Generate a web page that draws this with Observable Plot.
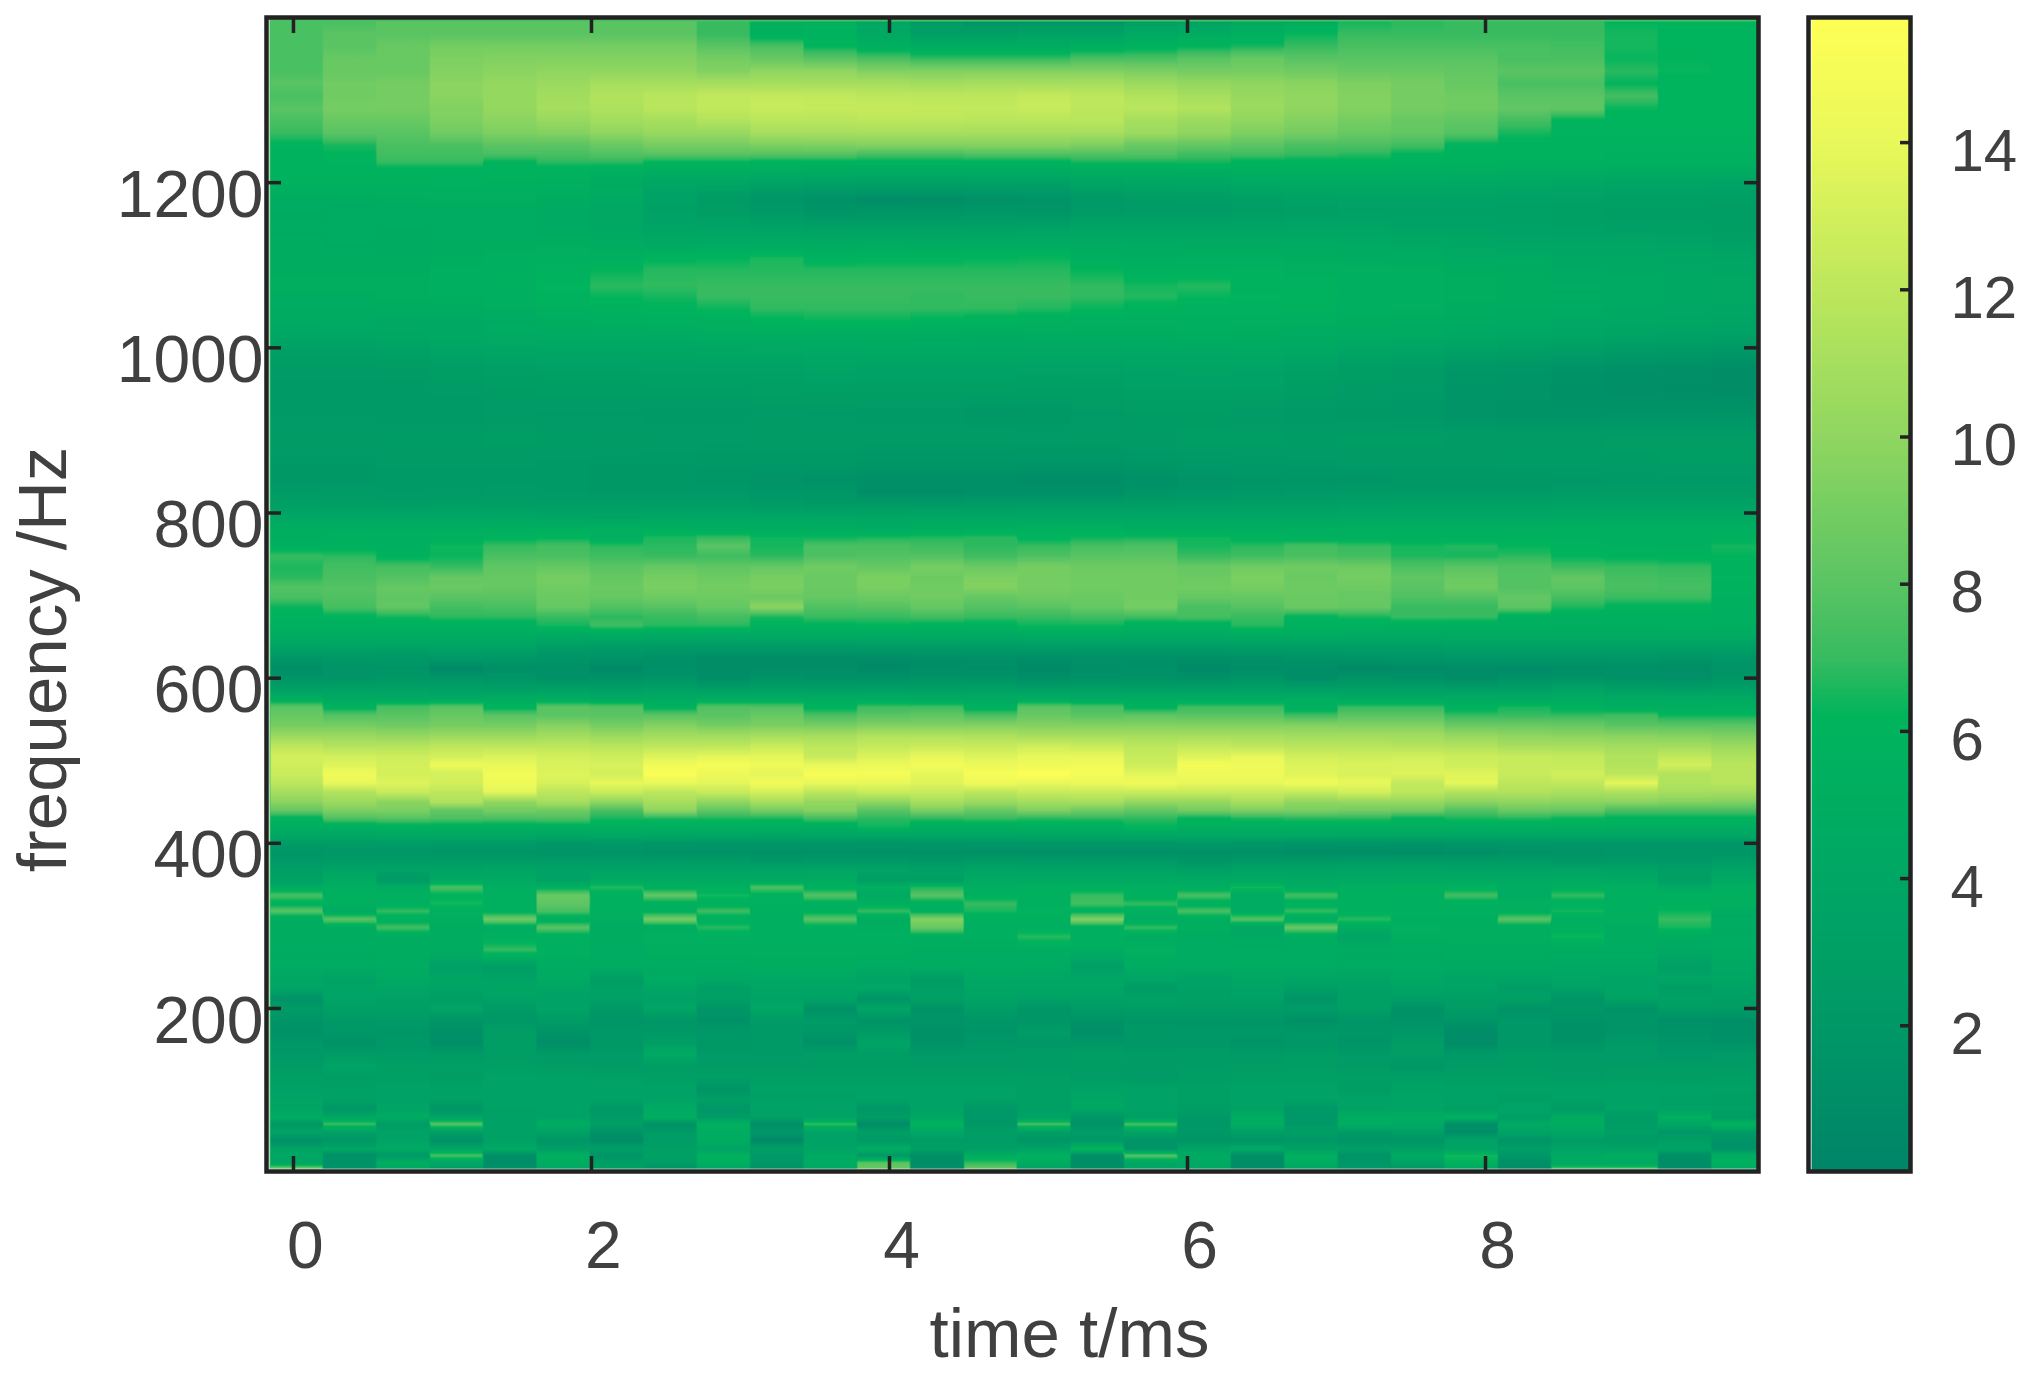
<!DOCTYPE html>
<html><head><meta charset="utf-8">
<style>
html,body{margin:0;padding:0;background:#fff}
#wrap{position:relative;width:2036px;height:1387px;overflow:hidden}
#wrap svg,#wrap figure{position:absolute;top:0;margin:0}
</style>
<script src="https://cdn.jsdelivr.net/npm/d3@7"></script>
<script src="https://cdn.jsdelivr.net/npm/@observablehq/plot@0.6"></script>
</head><body><div id="wrap"></div>
<script>
// colour scale stops
const colorStops=[0,2,4,6.2,7,8,10,12,14,15.7];
const colorRange=["#008468","#009866","#00a764","#00b45c","#38bb60","#5ac463","#90d660","#bde75c","#e8f85a","#ffff55"];
const xTicks=[0,2,4,6,8];
const yTicks=[200,400,600,800,1000,1200];
const barTicks=[2,4,6,8,10,12,14];
const columnStart=-0.161, columnWidth=0.3584, columnCount=28;
// each row: frequency (Hz), then one value per time column
const rowsUpper=[
[1395,7.5,7.5,8,8,8,8,8,8,7,5.5,5.6,4,2.5,1.8,2,2,3,3.5,4.5,5,6.5,6.8,7,7,7,6.2,6,6],
[1380,7.5,8,8,8,8,8,8,8,7,5.5,5.8,4.5,3,3,3.5,3.5,4.5,5,5.5,6.3,7,7,7,7,7,6.5,6,6],
[1365,7.5,8,8.5,9,9,9,9,9,8,7.5,6.2,5.5,5,5,5,5.5,5.8,6.2,6.5,7,7.5,7.5,7.5,7.5,7.3,6.5,6,6],
[1350,7.5,8.5,8.5,9.3,9.5,9.5,9.5,9.5,9,8.5,8,7.5,7,7,7,7.5,7.5,8,8.5,8,8,8,8,7.5,7.5,6.3,6.2,6],
[1335,7.5,8.5,8.5,9.5,9.8,10,10,10,9.5,10,10,9.5,9.5,9.5,9.5,9.5,9.3,9,9,8.8,8.5,8.5,8.3,8,8,6.8,6.3,6],
[1320,8,8.8,9,9.8,10.2,10.5,11,11,11,11,11,11,10.8,11,11,11,10.5,10.2,10,9.8,9.3,9,8.5,7.5,7.5,6.2,6,6],
[1305,7.5,8.8,9,9.8,10.2,10.8,11.5,11.8,12.2,12.3,12.2,12,12,12,12.3,12,11.5,11,10.3,10,9.5,9,8.8,8,8,7.3,6,6],
[1290,8,9,9,9.5,10.2,11,11.3,11.8,12.2,12.5,12.4,12.4,12.3,12.3,12.5,12,11.8,11.5,10.5,10,9.5,9,8.8,8.3,8.2,6.3,6,6],
[1275,7.5,8.5,8.5,9.3,9.8,10.3,10.8,11,11.5,11.8,11.8,12,12,11.8,11.8,11.8,11,10.5,10,9.5,9,8.5,8.2,7.3,6,6,6,6],
[1260,7,8,8,8.8,9.3,9.5,10,10.3,10.3,11,11,11,11,11,11,11,10.5,10,9.3,9,8.5,8.3,7.8,6.5,6,6,6,6],
[1245,6,6.5,7.5,7.5,8,8,8.5,9,9,9.2,9.3,9.5,9.5,9.5,9.5,9.2,8.5,8.3,8,7.5,7.5,7.2,6,5.8,5.8,5.8,5.7,5.7],
[1235,5.8,6.2,7.3,7.3,7.5,7.5,7.8,8,8,8,8,7.5,7.5,7.8,7.8,7.8,7.8,7.3,7.3,7,6.8,6.2,5.8,5.7,5.7,5.6,5.6,5.6],
[1225,5.8,6,7,7,6.2,6.8,6.8,6.2,6.2,6,6,6,6,6,6,6.5,6.5,6.5,6,6,6,5.7,5.7,5.6,5.6,5.5,5.5,5.5],
[1215,5.8,5.8,5.8,5.8,5.8,5.8,5.6,5.3,5.3,5.2,5,5,5,5,5,5.2,5.2,5.3,5.4,5.4,5.4,5.4,5.3,5.2,5.2,5,5,5],
[1200,5.7,5.7,5.7,5.7,5.6,5.5,4.8,4,3.9,3.5,3.3,3.3,3.3,3.3,3.3,3.7,4,4,4.5,4.5,4.5,4.5,4.3,4.2,4,3.8,3.8,3.5],
[1180,5,5,5.2,5.3,5.3,5,4.5,3.3,2.5,1.8,1.3,0.9,1,1.3,1.5,2.2,2.5,2.7,3,3.3,3.5,3.5,3.5,3.3,3.2,3,3,3],
[1165,4.8,4.6,4.8,4.8,4.8,4.5,4.2,3.2,2.7,2.2,1.7,1.8,1.8,2,1.8,2.2,2.5,2.5,2.8,3,3.2,3.2,3.2,3.2,3,2.8,2.8,2.6],
[1145,4.6,4.6,4.8,4.8,4.8,4.5,4.2,3.7,3.6,3.5,3.2,3.2,3.2,3.2,3.4,3.8,3.7,3.7,3.7,3.8,3.8,3.5,3.5,3.3,3.2,3,3,2.8]
];
const rowsNear1070=[
[1125,5,4.7,4.5,4.8,5,5.2,5,4.5,4.6,4.8,4.8,5,4.8,4.8,4.8,4.8,4.6,4.7,4.7,4.7,4.5,4.2,4,3.8,3.8,3.8,3.6,3.3],
[1108,5,5,5,5.2,5.4,5.5,5.3,6.1,6.2,6.6,5.8,6,6,6.2,6.3,5.3,5.2,5.3,5.3,5.1,5,5,4.6,4.5,4.2,4.2,4,3.8],
[1095,5,5,5,5.3,5.5,5.8,6.2,6.7,6.7,6.7,6.7,6.7,6.7,6.7,6.7,6.2,5.6,5.6,5.7,5.4,5.4,5.3,5,4.8,4.5,4.4,4.2,4],
[1075,5.2,5.2,5.2,5.5,5.6,6,6.8,6.9,7,7,7,7,7,7,7,6.9,6.5,6.7,5.8,5.8,5.4,5.3,5.2,5,4.6,4.5,4.3,4.2],
[1062,5,5,5.2,5.3,5.6,5.9,6.3,6.5,7,7,7,7,6.9,7,7,6.9,6.7,6.3,6,5.8,5.5,5.4,5.2,5,4.8,4.6,4.4,4.2],
[1048,4.8,4.8,4.9,5,5.2,5.6,5.8,6,6.4,6.9,6.9,6.9,6.9,6.9,6.7,6.3,5.9,5.8,5.8,5.7,5.4,5.3,5,4.8,4.6,4.4,4.2,4],
[1035,4.6,4.5,4.4,4.4,4.8,5.2,5.4,5.6,5.7,6.2,6.4,6.4,6.2,6,5.8,5.5,5.5,5.5,5.5,5.4,5.2,5,4.7,4.5,4.4,4.2,4,3.8],
[1015,4,4,4,4.4,4.5,4.6,4.8,4.8,5,5,5,5,4.9,4.9,5,5,5,5.2,5,4.8,4.6,4.5,4.3,4,3.8,3.6,3.4,3.2],
[1000,3.2,3.2,3.4,3.8,4,4,4,4,4.2,4.3,4.4,4.5,4.5,4.4,4.4,4.4,4.4,4.5,4.5,4.4,4,3.8,3.5,3.2,3,2.6,2.5,2.3]
];
const rowsDark900=[
[975,2.5,2.5,2.6,2.8,3,3.2,3.2,3.3,3.3,3.3,3.7,3.5,3.5,3.5,3.4,3.4,3.6,3.7,3.6,3.2,2.8,2.6,2,1.8,1.5,1.3,1.2,1],
[950,2.2,2.2,2.2,2.4,2.6,2.7,2.7,2.8,2.8,3,3,3,3,3,2.8,2.9,3.2,3.2,3.2,2.7,2.5,2.4,1.7,1.6,1.3,1.1,1,0.9],
[920,2.3,2.3,2.2,2.2,2.4,2.3,2.3,2.2,2.2,2.4,2.3,2.2,2.2,2,2,2.3,2.5,2.5,2.4,2.2,2.1,2,1.6,1.5,1.5,1.6,1.6,1.6],
[890,2.6,2.6,2.6,2.6,2.7,2.6,2.6,2.5,2.5,2.6,2.6,2.6,2.6,2.6,2.5,2.6,2.6,2.7,2.7,2.6,2.7,2.7,2.6,2.6,2.6,2.7,2.7,2.7],
[860,2.2,2.2,2.4,2.4,2.4,2.3,2.2,2.2,2,2,2,1.8,1.8,1.8,1.7,1.7,1.9,2.1,2.2,2.3,2.4,2.4,2.4,2.5,2.5,2.5,2.6,2.6],
[840,2,2,2.2,2.2,2.2,2.2,2,2,1.8,1.6,1.4,1.2,1.2,1.2,1,1,1.3,1.6,1.7,1.8,1.8,2,2,2,2.1,2.2,2.3,2.3],
[825,2.5,2.5,2.3,2.3,2.5,2.3,2.2,2.2,2.2,1.9,1.8,1,1,1.2,1.2,1.2,1.6,1.8,2,2.2,2.3,2.3,2.3,2.3,2.5,2.6,2.6,2.6],
[810,3,2.8,2.8,3,2.8,2.8,2.8,2.8,2.8,2.6,2.3,2.5,2.4,2.5,2.7,2.7,2.8,3,3,3,3.2,3.3,3.3,3.3,3.3,3.4,3.4,3.4],
[795,4,4,4,4,4,3.8,3.8,4,4,4,4,4,4.2,4.2,4.2,4.2,4,4,4,4,4.2,4.2,4.2,4.2,4.4,4.4,4.4,4.4],
[780,5.3,5.3,5.3,5.3,5.4,5.5,5.6,5.5,5.2,5.2,5.2,5,5.2,5.4,5.6,5.6,5.2,5.3,5.3,5.4,5.5,5.5,5.5,5.5,5.5,5.4,5.4,5.4]
];
const rowsBand720=[
[770,5.2,5.5,5.3,5.5,6,6.2,5.4,6.6,7,6.4,6.4,6.6,6.7,6.8,6,6.4,6.5,6.4,5.8,5.6,5.6,5.6,5.6,5.6,5.6,5.5,5.5,5.5],
[760,5.6,5.7,5.4,6.4,7,7.3,6.8,6.8,8,6.5,7.5,7.5,7.2,6.8,7,7.4,7.6,6.5,6.8,7.3,7,6.5,6.7,6.2,5.7,5.6,5.5,6.5],
[748,7,6.8,5.8,6.3,7.5,7.5,7.2,7,7.2,6.8,7.6,7.8,7.8,7.2,7.6,8,8,7,7.2,7.5,7.3,6.6,6.5,6.8,6.2,6,5.8,6.2],
[735,6.6,7.3,7.4,7,8.2,8.4,8,8.4,8.2,8.4,8.8,8.4,9,8.6,9,8.7,8.7,8.4,8.8,8.8,8.7,7.6,8,7.7,7.1,7,6.9,5.7],
[722,6.8,7.5,7.8,8.4,8.4,9,8.4,9,8.7,9.1,8.6,9.2,8.7,9.3,9,8.8,8.8,8.6,9.3,8.6,9,8.2,8.6,7.8,8.3,7.4,7.2,6],
[710,7.8,7.8,8.4,8.6,8.4,8.8,8.6,9.2,8.9,9.2,8.6,9.2,8.8,9.5,9,8.8,8.8,8.8,9,8.7,8.7,8,8.8,7.8,8.1,7.5,7.4,5.7],
[698,7.5,7.7,8.2,8,8,8.6,8.4,8.7,8.7,8.6,8.4,8.6,8.8,8.4,8.7,8.6,8.8,8.4,8.4,8.6,8.4,7.7,7.8,8.3,7.4,7.1,7.1,5.6],
[686,6.3,7.4,8.3,7.3,7.5,8.4,7.7,7.9,8.4,9.8,7.7,7.9,8.4,7.8,8,8.4,9,7.5,7.9,8.6,8.4,7,7,8.1,6.6,6,6,5.6],
[674,5.8,6,6.4,6.8,6.8,7,6.8,7,7.3,6.5,7,7,7.2,7,7,7.2,7.2,7.4,7,6,6.5,7,7,5.5,5.5,5.5,5.5,5.5],
[664,5.5,5.5,5.5,5.6,5.6,6.5,7.2,6.8,6.8,6,6,6.2,6,5.8,6.4,6.4,5.6,5.6,6.8,5.8,5.6,5.5,5.4,5.3,5.2,5.2,5.3,5.2],
[652,5,5,5,5,5,4.8,4.8,4.6,4.5,4.6,4.8,4.7,4.7,4.7,4.8,4.8,4.8,4.8,5,5,4.8,4.8,4.8,4.8,4.8,4.8,4.8,4.8],
[640,3.8,3.8,3.8,3.8,3.8,2.9,2.7,2.7,2.7,2.7,2.7,2.8,2.8,2.8,3,3,3,3,3.2,3.2,3.2,3.2,3.5,3.5,3.5,3.5,3.5,3.5],
[625,2,2.2,2.1,2.4,2.2,1.7,1.7,1.3,0.9,0.9,0.9,1,1.1,1.3,1.1,1.2,1.3,1.3,1.3,1.6,1.8,1.8,2,2,2,2,1.8,1.9],
[612,1,1.6,1.7,0.4,1.2,1.3,0.5,1.2,1,1,1,0.6,1,1,0.6,1.1,1.2,0.6,1,1,0.6,0.8,0.9,0.7,1,1.2,1,1.6],
[600,1.7,1.7,2,2,1.8,1.3,1.5,1.7,1,1.6,1.4,1.4,1.6,1.6,1.2,1.4,1.5,1.3,1.7,1,1.6,1.3,0.9,1.4,1.6,1.4,1.2,1.8],
[588,3,3.2,3.3,3,2.8,3,2.8,3.2,2.7,3,2.8,3,2.8,3.1,2.9,3,3,3,3.2,2.9,3,3,2.7,2.8,3.4,2.8,2.7,3],
[575,5.2,4.5,4.5,4.5,5,5,4.6,4.7,5,5,5,4.8,4.6,4.6,5,4.8,5,4.8,4.8,5.3,4.6,4.6,4.8,4.6,5,4.7,4.6,4.6]
];
const rowsBand490=[
[565,8,5.8,7.5,8,5.8,8,7.8,5.8,7.8,7.8,5.8,7.2,7.2,5.6,8,7.5,5.8,7.2,7.2,5.4,7,7,5.6,6.5,5.6,5.3,5.2,5.3],
[555,8.5,7.8,8,8.5,8,8,8,8,8,8.5,7.5,8,8.2,7.5,8.5,8,8.2,8,8,7.2,8,8,7,7,7,7.2,6.3,6.3],
[543,9,9,8.8,9,9,9.6,9,9.5,9,9.2,9,9.4,9.4,9.5,9.5,9.5,9.5,9.5,9.5,9.5,9.4,9.4,8.6,8.6,8.5,8,8,8],
[530,10.5,10.5,10.2,10.5,10.5,10.8,10.5,10.8,10.8,11,11,11.5,11.5,11.3,11,11,11,11,11,10.8,10.8,10.8,10.3,10,9.8,9.8,9.6,9.3],
[518,12,11.5,11.6,12,12,12,11.8,12,12,12.5,12,12.3,12.5,12.5,12.8,12.5,12,12.3,12,11.8,11.8,11.6,11.5,11,11,10.8,10.8,10.5],
[505,13,13,12.8,13,13.4,13,12.8,13.5,13.8,13.8,12.5,13.4,14,13.5,14,14,12.5,13.5,14,13,12.8,13,12.7,12.5,12.3,11.5,12.2,11.4],
[495,12.8,13.5,13,14.3,14,13.3,13.2,14.6,15,14.5,14,14.3,14.8,14.3,14.5,14.8,12.8,14.8,14.5,13.5,13.3,13.3,12.8,12.5,12.4,11.5,13,11.8],
[484,12.6,14.5,13,13,14.8,13.5,13,15.4,14.3,13.8,15.2,15,13.8,15,15.6,15,13.8,14.5,14.5,13.6,13.3,13.5,13.6,12.5,13,12,11.5,11.8],
[473,12,14,13.5,13,14.5,13.2,14,14,13.8,14.7,14,14,13.6,14.5,14,14.2,14.5,14,14,14.5,14,12.3,13.8,12,12.2,13.8,11.5,11.8],
[462,11,11.5,12.5,12,13.7,12,12.5,12,12.5,13,12,12.5,12.5,12,12.5,12.5,12.5,12.5,12.5,12.3,13,12,11.5,11.5,11.2,11.3,11,11],
[450,9.8,10.5,9.8,11.4,10,11,10,11,10,11,10.2,10,11,10.5,10.8,11,10.2,10.2,11,10,10.2,10.3,9.8,10,9.8,9.8,9.6,9.4],
[440,8.4,9.3,9.3,8.3,9,8.8,7.5,10,8.3,9,9.6,8,9.2,8.5,9.4,8.8,8.3,9,9.3,9.2,9,8.8,7.8,8.6,8.5,7.5,7.5,7.5],
[430,5.8,7.6,7.8,7.6,7.5,7.6,6.5,6.5,6.5,6.5,7.2,6.8,6.8,7,6.7,6.8,6.8,6,6.5,6.7,6.7,6,6.5,6.6,6.2,6,6,6],
[420,5.2,5.3,5.6,5.6,5.4,5.6,5.6,5.4,5.4,5.4,5.4,6.4,5.4,5.4,5.6,5.5,6.2,5.6,5.6,5.6,5.5,5.5,5.4,5.4,5.4,5.2,5.2,5.2],
[410,4.2,4.2,4.4,4.4,4.4,4.2,4.2,4.2,4,3.9,4,4,4,4,4.2,4.2,4.2,4.3,4.3,4.3,4.2,4.2,4.2,4,4,4,4,4],
[400,2.5,2.5,2.5,2.5,2.5,2,2.2,2,1.8,1.8,1.8,1.7,1.8,2,2,2,2,2.2,2,1.7,1.7,1.6,1.8,1.9,2,2,2,2],
[388,1.8,2,2,1.8,1.8,1.6,1.6,1.4,1.4,1.4,1.4,1.4,1.4,1.3,1.3,1.2,1.2,1.3,1.2,1,1,1,1.2,1.4,1.6,1.8,1.8,1.8],
[379,2.2,2.5,2.5,2.5,2.5,2.5,2.5,2.5,2.5,1.8,2.2,2.2,1.8,2.5,2.4,2.4,2.3,1.7,2.2,2.3,2.4,2.4,2.5,2.5,2,2.2,2,2.7]
];
const rowsStreaks=[
[368,3,3.5,3.5,3.4,3.8,3.5,3.5,3.5,3.5,3.7,3.7,3.5,3.3,3.6,3.6,3.5,3.5,3.2,3.6,3.5,3.7,3.7,3.5,3.5,3.5,3.5,3,3.5],
[355,3.2,4.8,2.2,4.5,4.5,3.5,4.6,4.6,4.6,4.5,4.8,2.8,3,4.5,4.6,4.5,4.6,4.5,4.5,4.4,4.5,4.6,4.6,4.5,4.6,4.4,3,4.5],
[347,4.8,5.2,5,7.5,5.2,5.6,6.8,5.5,5.5,7.6,5.5,5.5,6.5,5.2,5.6,5.5,5.5,5.2,6.5,5,5.4,5.6,5.6,5,5.4,5.3,4.5,5.4],
[337,7.5,5.6,5.5,6,5.5,8.5,5.5,8.3,6.5,5.8,7.8,4.5,8,5.6,5.6,7,5.3,7.5,4.8,7.3,5.5,5.4,7.3,4.8,7,5.4,5.6,5.5],
[327,5.6,5.6,5.4,6.5,5.5,8.2,5.5,5.5,5.5,5.6,5.6,5.4,5.4,7,5.5,7.3,7,5.4,4.8,5.5,5.6,5.5,5.5,5.5,5.5,5.5,5.5,5.5],
[318,8,4.6,7,5.5,5.5,7.5,5.5,5.6,7.2,5.6,5.6,7,5.6,6.5,6,5.6,5.4,7.5,5,7,5.6,5.6,5.6,5.4,6.5,5.5,6.3,5],
[308,4.8,8,5.4,5.2,8.8,5.2,5.4,9,5.4,5.5,8,5,9.5,5.5,5.5,9.5,5,5.2,7.8,5,6.8,5.2,5.2,8,5.4,5.5,7,4.6],
[298,5,5,7.3,5,5,8,4.8,5,6.8,5.4,5.4,5.2,8.5,5.4,5.4,5.4,7,5.2,4,8.5,5,5.4,5.2,5.2,5.6,5,6.5,4.6],
[287,5,5,5,5,5.4,5.4,5,5.4,5.4,5.4,5.4,5.4,5.4,5.4,6.8,5.4,5,5,4.5,5,3.6,5.2,5.2,5.2,6.4,5,5,4.8],
[271,4.8,4.8,5,5,7,5.6,4.8,5.2,5.2,5.2,5.2,5.2,5,5,5,5.2,5.4,4.8,4.8,4.8,4.8,4.8,5,5,4.8,4.8,4.4,4.8],
[250,4.6,4.6,4.8,3.2,2.8,4.8,4.8,4.8,4.8,5,5,4.8,4.8,4.8,4.8,3,4.8,4.8,4.8,4.8,4.6,4.6,4.6,4.6,4.4,4.4,3,4.2],
[235,4,3.4,4.4,3.8,3.5,4.5,2.6,4.6,4.2,4.2,4.2,3.5,2.5,4.2,4,4,3.8,3.3,4,3.8,3.6,4.2,3.6,3.6,3.8,3.6,3.8,3.8],
[225,3.8,3.7,3.8,3.6,3.8,3.8,3.2,4,2.9,3.8,3.8,4.2,2.8,3.8,3.8,3.8,2.5,3.3,3.6,3,3.2,3.8,3.6,2.8,3.4,3.6,2.8,3.5],
[212,1.5,3.6,3.2,2.7,3.5,3.3,3.2,3.3,3.2,3.5,3.4,1.6,3.2,3.5,3.4,3.4,3.3,3,3.3,1.7,3,3,3,3.2,1.7,3.5,3.2,3]
];
const rowsLow=[
[200,2.4,3,3,3.6,2.4,3.6,2.2,3.8,1.8,4,1.3,3.8,1.5,2.8,1.8,2.6,2.8,2.7,2.6,2.6,3,1.4,2.6,1.5,1.9,1.5,2.8,2.6],
[185,1.6,2.2,2.4,1.7,2,2.5,1.7,1.8,1.4,2.4,2.3,1.5,1.7,1.8,1.8,1.4,1.8,1.8,1.8,1.3,1.7,1.5,1.7,2,1.5,1.7,1.2,1.2],
[172,1.4,2,1.9,1.2,2.8,1.6,2,2.2,2,2.2,2,2.3,1.3,1.7,2.6,1.2,2.2,2,2,2,1.9,2,0.9,2,1.3,1.6,1.5,1.2],
[158,2,1.4,2,1.2,2.6,1.1,2,2.8,2,2.2,1.3,3.6,1.4,2,2,2,2,2,1.6,2,1.6,2.6,0.9,2,1.5,2.3,1.7,1.4],
[145,2.2,2.5,2.4,2.3,2.6,2.3,2.4,4.5,2.3,2.3,2.8,2.8,2.3,2.3,2.6,2.8,2.5,2.6,2.3,2.6,2.3,2.8,2.2,2.5,2.4,2.4,2,2.4],
[130,2.5,3.5,3,3,3,2.7,2.5,2.7,2.5,2.5,2.5,2.5,2.6,2.5,2.5,2.5,2.5,2.5,2.7,2.8,2.5,1.9,2.5,2.6,2.5,2.5,2.6,2.6],
[116,3,2.8,3,2.7,3.4,3.3,3.2,3,3,3,3,3,3,3,3,2.5,2.3,2.8,3,3,3,3,3,3,2.5,2.8,2.7,3],
[102,3.2,3.2,3.5,3.3,3.5,3.5,3.5,3.4,1.6,3.3,3.3,3.3,3.3,3.3,3,3.5,3.5,3,3.5,3.5,2.6,3.5,3.3,3.3,3.5,3.5,3.5,3.3],
[90,3.6,3.2,3.5,3.2,3.5,3.5,3.5,3.4,3,3.2,3.2,3.5,3.4,3.3,3,3.8,3.5,3,3.5,3.5,3.5,3.6,3.5,3,3.5,3.5,3.2,3],
[78,3.8,2,3.6,1.8,3.2,3.5,2,4.5,2,3.5,3.5,1.8,3.4,2,3,3.8,3.5,2.7,3.5,2,3.5,3.6,3,3.7,2.2,3.4,3.3,3.2],
[68,5,4.2,4.8,3.8,3.2,3.5,2.5,5,2.5,3,3.5,2.8,4,2,3.5,1.8,3,2.2,5,2,5,5,5.5,3,5,2.5,5.5,2.5],
[60,2,7.2,2.5,8,3.2,5,3,1.3,5.5,1,7,0.8,6,2,7.5,1.5,7.5,2,5,2,5,4.5,1.2,4.5,5,2.5,4,6],
[50,3.5,3.2,3.5,2.8,3.2,3.2,1.5,2.5,5,2,3.4,3,4,2.8,3,2.7,3.5,2,3,3,2.5,3,1,3.5,4,3,2,2.5],
[40,1.2,1.8,3.5,1.2,3.2,1.8,0.9,2.5,5,0.6,3.3,2.2,2.5,2.5,1.8,2,1.6,1.8,1.6,2,1.6,1.6,3.3,1.6,2.5,2.3,3,1.5],
[30,3.6,4,4.5,4,4.5,3,3,3,3.5,3,3.5,5,3,3,3.5,6.5,1.6,3.6,4.5,3.2,3.2,3,3.5,3,3.5,3.5,3.5,1.5],
[22,4,1.2,2,7.5,1,5.2,1.6,3.2,5.5,2,4.5,2.2,1,5,5.5,1,8,4.5,1,5.5,1.5,4.5,6.5,2,4.5,5,1,5],
[13,4,1.5,5.5,4,1,5,3,2.8,5.5,2,5,8,1,7,5,1,4,4.5,1,5,2,3.5,6,1.2,4.5,4.5,1,5.5],
[6,9,1.5,4,3,1.2,4,3,1.8,4,1.5,4,8.5,1.2,8.5,3.5,1,4,4,0.8,4,2,2,4,1,7.5,7.5,1,5]
];
const allRows=[...rowsUpper,...rowsNear1070,...rowsDark900,...rowsBand720,...rowsBand490,...rowsStreaks,...rowsLow];
// table: every value sits at both edges of its time column
const samples=[];
for(const row of allRows){
  for(let c=0;c<columnCount;c++){
    const v=row[c+1]; if(v==null) continue;
    const t0=columnStart+c*columnWidth;
    samples.push({t:t0+0.004,f:row[0],v},{t:t0+columnWidth-0.004,f:row[0],v});
  }
}
const ink="#222", textInk="#404040", fontMain="'Liberation Sans',Arial,sans-serif";
const colorOpt={type:"linear",domain:colorStops,range:colorRange,interpolate:"rgb",clamp:true};
const noText=()=>"";
const main=Plot.plot({
  width:2036,height:1387,marginLeft:266,marginRight:278,marginTop:17,marginBottom:216,
  style:{background:"transparent",fontFamily:fontMain},
  x:{domain:[-0.181,9.832]},y:{domain:[2.6,1400]},color:colorOpt,
  marks:[
    Plot.raster(samples,{x:"t",y:"f",fill:"v",interpolate:"barycentric",pixelSize:1,x1:-0.161,x2:9.832,y1:6,y2:1400}),
    Plot.axisX(xTicks,{anchor:"bottom",label:null,tickSize:0,tickPadding:50,dx:12,fontSize:66,fill:textInk,tickFormat:"d"}),
    Plot.axisX(xTicks,{anchor:"bottom",label:null,tickSize:-15,tickFormat:noText,stroke:ink,strokeWidth:3.5}),
    Plot.axisX(xTicks,{anchor:"top",label:null,tickSize:-15,tickFormat:noText,stroke:ink,strokeWidth:3.5}),
    Plot.axisY(yTicks,{anchor:"left",label:null,tickSize:0,tickPadding:3,dy:13,fontSize:66,fill:textInk,tickFormat:"d"}),
    Plot.axisY(yTicks,{anchor:"left",label:null,tickSize:-15,tickFormat:noText,stroke:ink,strokeWidth:3.5}),
    Plot.axisY(yTicks,{anchor:"right",label:null,tickSize:-15,tickFormat:noText,stroke:ink,strokeWidth:3.5}),
    Plot.frame({stroke:ink,strokeWidth:4.5}),
    Plot.text(["time t/ms"],{frameAnchor:"bottom",dx:57,dy:185,fontSize:69,fill:textInk,lineAnchor:"bottom"}),
    Plot.text(["frequency /Hz"],{frameAnchor:"left",rotate:-90,textAnchor:"middle",dx:-223,dy:65,fontSize:69,fill:textInk})
  ]
});
main.style.left="0px";
const bar=Plot.plot({
  width:246,height:1387,marginLeft:18,marginRight:126,marginTop:17,marginBottom:216,
  style:{background:"transparent",fontFamily:fontMain},
  x:{domain:[0,1],axis:null},y:{domain:[0.02,15.7]},color:colorOpt,
  marks:[
    Plot.raster({fill:(x,y)=>y,x1:0.03,x2:1,y1:0.02,y2:15.7,pixelSize:1}),
    Plot.axisY(barTicks,{anchor:"right",label:null,tickSize:0,tickPadding:40,dy:9,fontSize:60,fill:textInk,tickFormat:"d"}),
    Plot.axisY(barTicks,{anchor:"right",label:null,tickSize:-11,tickFormat:noText,stroke:ink,strokeWidth:3.5}),
    Plot.frame({stroke:ink,strokeWidth:4.5})
  ]
});
bar.style.left="1790px";
document.getElementById("wrap").append(main,bar);
</script></body></html>
